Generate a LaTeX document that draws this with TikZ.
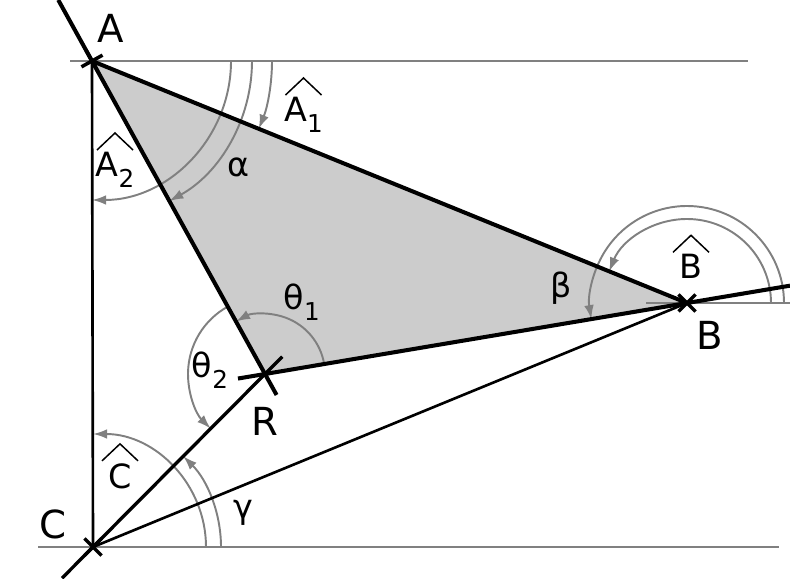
\documentclass[tikz,border=0pt]{standalone}
\usepackage{fontspec}
\setmainfont{DejaVu Sans}
\usepackage{tikz}
\usetikzlibrary{calc,arrows.meta,shapes.misc}
\newcommand\idx[1]{\raisebox{-6pt}{\fontsize{14}{16}\selectfont #1}}

\begin{document}
\begin{tikzpicture}[x=0.02cm,y=0.02cm,
		side/.style={line width=2.3pt},
		midside/.style={line width=1.9pt},
		thinside/.style={line width=1.5pt},
		guide/.style={draw=black!50,line width=1.1pt},
		angarc/.style={draw=black!50,line width=1.1pt,-{Latex[length=8pt,width=5.5pt]}},
		hatline/.style={line width=0.85pt},
		big/.style={font=\fontsize{22}{26}\selectfont,anchor=base,inner sep=0pt},
		small/.style={font=\fontsize{19}{22}\selectfont,anchor=base,inner sep=0pt}]
			\useasboundingbox (0,0) rectangle (790,578);
			\coordinate (A) at (92,517);
			\coordinate (B) at (687,275);
			\coordinate (R) at (265,204);
			\coordinate (C) at (93,31);
			% free ends of the three lines through R
			\coordinate (AR1) at ($(R)!1.195!(A)$);
			\coordinate (AR2) at ($(A)!1.067!(R)$);
			\coordinate (CR1) at ($(R)!1.18!(C)$);
			\coordinate (CR2) at ($(C)!1.1!(R)$);
			\coordinate (RB1) at ($(B)!1.064!(R)$);
			\coordinate (RB2) at ($(R)!1.244!(B)$);
			\fill[black!20] (A) -- (B) -- (R) -- cycle;
			% horizontals
			\draw[guide] ($(A)+(-22,0)$) -- ($(A)+(656,0)$);
			\draw[guide] ($(B)+(-41,0)$) -- ($(B)+(103,0)$);
			\draw[guide] ($(C)+(-55,0)$) -- ($(C)+(686,0)$);
			% angles
			\draw[angarc] ($(A)+(180,0)$) arc[start angle=0,end angle=-22.1,radius=180];
			\draw[angarc] ($(A)+(160,0)$) arc[start angle=0,end angle=-61.1,radius=160];
			\draw[angarc] ($(A)+(139,0)$) arc[start angle=0,end angle=-90,radius=139];
			\draw[angarc] ($(B)+(97,0)$) arc[start angle=0,end angle=189.6,radius=97];
			\draw[angarc] ($(B)+(84,0)$) arc[start angle=0,end angle=158,radius=84];
			\draw[angarc] ($(R)+(9.55:60)$) arc[start angle=9.55,end angle=118.9,radius=60];
			\draw[angarc] ($(R)+(118.9:77)$) arc[start angle=118.9,end angle=225.2,radius=77];
			\draw[angarc] ($(C)+(113,0)$) arc[start angle=0,end angle=90,radius=113];
			\draw[angarc] ($(C)+(128,0)$) arc[start angle=0,end angle=45.2,radius=128];
			% sides
			\draw[side] (AR1) -- (AR2);
			\draw[side] (RB1) -- (RB2);
			\draw[side] (A) -- (B);
			\draw[midside] (CR1) -- (CR2);
			\draw[thinside] (A) -- (C);
			\draw[thinside] (C) -- (B);
			\foreach \Point/\Turn in {A/74,B/0,C/0}
				\node[cross out,draw,line width=2pt,minimum size=0.27cm,inner sep=0pt,rotate=\Turn] at (\Point) {};
			% labels
			\node[big] (lA) at (111,535) {A};
			\node[big] (lB) at (709.5,228) {B};
			\node[big] (lR) at (265,143) {R};
			\node[big] (lC) at (52.5,40) {C};
			\node[small] (lA1) at (303.5,456.3) {A\idx{1}};
			\node[small] (lA2) at (115,401.3) {A\idx{2}};
			\node[small] (lBh) at (691,299) {B};
			\node[small] (lCh) at (120,90) {C};
			\node[small] (lalpha) at (238,401.3) {α};
			\node[small] (lbeta) at (561.5,280) {β};
			\node[small] (lgamma) at (243,60) {γ};
			\node[small] (ltheta1) at (301.7,268) {θ\idx{1}};
			\node[small] (ltheta2) at (210,200) {θ\idx{2}};
			\foreach \Lbl in {lA1,lA2,lBh,lCh}
				\draw[hatline] ($(\Lbl.north)+(-18,2)$) -- ($(\Lbl.north)+(0,19)$) -- ($(\Lbl.north)+(18,2)$);
		\end{tikzpicture}
\end{document}
